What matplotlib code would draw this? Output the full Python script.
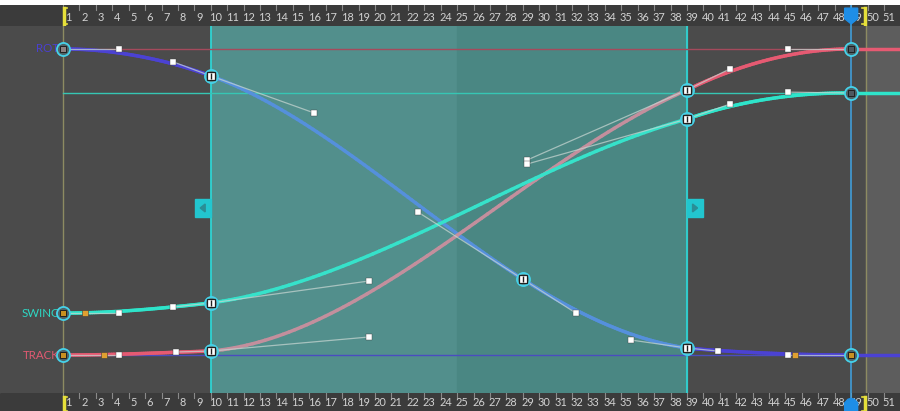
import numpy as np
import matplotlib
matplotlib.use("Agg")
import matplotlib.pyplot as plt
from matplotlib.patches import Rectangle, Polygon
from matplotlib.collections import LineCollection

plt.rcParams['font.family'] = ['Lato', 'DejaVu Sans']

# ---------------- data ----------------
ruler_frames = list(range(1, 52))
sel_start, sel_end, sel_pivot = 10, 39, 25
range_start, range_end = 1, 49.9
current_frame = 49

rot_key_f = [1, 10, 29, 39, 49]
rot_key_v = [1.0, 0.912, 0.248, 0.023, 0.0]
rot_in_f = [None, 7.70, 22.62, 35.59, 45.15]
rot_in_v = [None, 0.958, 0.467, 0.049, 0.0]
rot_out_f = [4.41, 16.29, 32.24, 40.89, None]
rot_out_v = [1.0, 0.791, 0.137, 0.013, None]

track_key_f = [1, 10, 39, 49]
track_key_v = [0.0, 0.013, 0.866, 1.0]
track_in_f = [None, 7.88, 29.26, 45.15]
track_in_v = [None, 0.010, 0.637, 1.0]
track_out_f = [4.41, 19.64, 41.62, None]
track_out_v = [0.0, 0.059, 0.935, None]

swing_key_f = [1, 10, 39, 49]
swing_key_v = [0.137, 0.170, 0.771, 0.856]
swing_in_f = [None, 7.70, 29.26, 45.15]
swing_in_v = [None, 0.157, 0.624, 0.859]
swing_out_f = [4.41, 19.64, 41.62, None]
swing_out_v = [0.137, 0.242, 0.820, None]

# weight markers (orange)
weight_f = [3.50, 2.34, 45.58]
weight_v = [0.0, 0.137, 0.0]

ref_values = {'track_max': 1.0, 'swing_max': 0.856, 'rot_min': 0.0}

# ---------------- layout ----------------
W, H = 900, 411
PXF = 16.42
XMIN = 1 - 63 / PXF
XMAX = 1 + (W - 63) / PXF

fig = plt.figure(figsize=(9, 4.11), dpi=100, facecolor='white')
ax = fig.add_axes([0, 18 / H, 1, 367 / H])
ax_top = fig.add_axes([0, 1 - 26 / H, 1, 21 / H])
ax_bot = fig.add_axes([0, 0, 1, 18 / H])

for a in (ax, ax_top, ax_bot):
    a.set_xlim(XMIN, XMAX)
    a.axis('off')
ax.set_ylim(-0.124, 1.075)
ax_top.set_ylim(0, 1)
ax_bot.set_ylim(0, 1)

# backgrounds
ax.add_patch(Rectangle((XMIN, -1), XMAX - XMIN, 3, color='#4b4b4b', zorder=0))
ax.add_patch(Rectangle((range_end, -1), XMAX - range_end, 3, color='#5d5d5d', zorder=0))
ax.add_patch(Rectangle((sel_start, -1), sel_pivot - sel_start, 3, color='#528f8c', zorder=1))
ax.add_patch(Rectangle((sel_pivot, -1), sel_end - sel_pivot, 3, color='#4a8783', zorder=1))
for a in (ax_top, ax_bot):
    a.add_patch(Rectangle((XMIN, 0), XMAX - XMIN, 1, color='#3b3b3b', zorder=0))

# vertical guides
for f in (range_start, range_end):
    ax.axvline(f, color='#8d8b62', lw=1, zorder=2)
for f in (sel_start, sel_end):
    ax.axvline(f, color='#2fd3d3', lw=1.3, zorder=2)

# reference horizontals
ax.plot([range_start, current_frame], [ref_values['track_max']] * 2, color='#a54a5c', lw=1, zorder=3)
ax.plot([range_start, current_frame], [ref_values['swing_max']] * 2, color='#36c6b4', lw=1, zorder=3)
ax.plot([range_start, current_frame], [ref_values['rot_min']] * 2, color='#4a4cc0', lw=1, zorder=3)


def bez(p0, p1, p2, p3, n=80):
    t = np.linspace(0, 1, n)[:, None]
    return ((1 - t) ** 3) * p0 + 3 * ((1 - t) ** 2) * t * p1 + 3 * (1 - t) * t ** 2 * p2 + t ** 3 * p3


def curve_points(kf, kv, inf, inv, outf, outv):
    pts = []
    for i in range(len(kf) - 1):
        p0 = np.array([kf[i], kv[i]])
        p1 = np.array([outf[i], outv[i]])
        p2 = np.array([inf[i + 1], inv[i + 1]])
        p3 = np.array([kf[i + 1], kv[i + 1]])
        seg = bez(p0, p1, p2, p3)
        pts.append(seg if i == 0 else seg[1:])
    pts = np.vstack(pts)
    pts = np.vstack([pts, [XMAX, kv[-1]]])
    return pts


def draw_curve(pts, col_out, col_in, lw, z):
    segs = np.stack([pts[:-1], pts[1:]], axis=1)
    mids = (pts[:-1, 0] + pts[1:, 0]) / 2
    cols = [col_in if sel_start <= m <= sel_end else col_out for m in mids]
    lc = LineCollection(segs, colors=cols, linewidths=lw, capstyle='round', zorder=z)
    ax.add_collection(lc)


def draw_handles(kf, kv, inf, inv, outf, outv):
    for i in range(len(kf)):
        for hf, hv in ((inf[i], inv[i]), (outf[i], outv[i])):
            if hf is None:
                continue
            ax.plot([kf[i], hf], [kv[i], hv], color='#c4d4d0', lw=0.9, alpha=0.75, zorder=6)
            ax.plot(hf, hv, marker='s', ms=3.8, mfc='white', mec='#404040', mew=0.3, zorder=8)


curves = [
    ('ROT', rot_key_f, rot_key_v, rot_in_f, rot_in_v, rot_out_f, rot_out_v, '#4b42d3', '#5590dc', '#4a40d0'),
    ('TRACK', track_key_f, track_key_v, track_in_f, track_in_v, track_out_f, track_out_v, '#e65a72', '#c38f9d', '#e25a72'),
    ('SWING', swing_key_f, swing_key_v, swing_in_f, swing_in_v, swing_out_f, swing_out_v, '#2ee4ca', '#36e2ca', '#2ed8c4'),
]

for k, (name, kf, kv, inf, inv, outf, outv, co, ci, lc_) in enumerate(curves):
    pts = curve_points(kf, kv, inf, inv, outf, outv)
    draw_curve(pts, co, ci, 2.5, 4 + k * 0.1)
    draw_handles(kf, kv, inf, inv, outf, outv)
    ax.text(kf[0] - 3.5 / PXF, kv[0], name, color=lc_, fontsize=8.3, ha='right', va='center', zorder=5)

ax.plot(weight_f, weight_v, ls='none', marker='s', ms=3.8, mfc='#e0a030', mec='#3a3a3a', mew=0.4, zorder=8)

# current time line
ax.axvline(current_frame, color='#40a4e4', lw=1.1, zorder=7)
ax_top.axvline(current_frame, color='#40a4e4', lw=1.1, zorder=3)
ax_bot.axvline(current_frame, color='#40a4e4', lw=1.1, zorder=3)

# keys
inner_first = {'ROT': '#8c8282', 'TRACK': '#c89020', 'SWING': '#c89020'}
inner_last = {'ROT': '#c89020', 'TRACK': '#4e5860', 'SWING': '#4e5860'}
for name, kf, kv, *_ in curves:
    n = len(kf)
    for i in range(n):
        inside = sel_start <= kf[i] <= sel_end
        face = '#5a9da0' if inside else '#4e6468'
        ax.plot(kf[i], kv[i], marker='o', ms=9.4, mfc=face, mec='#45d2ea', mew=1.3, zorder=9)
        if i == 0 or i == n - 1:
            fc = inner_first[name] if i == 0 else inner_last[name]
            ax.plot(kf[i], kv[i], marker='s', ms=5, mfc=fc, mec='#202020', mew=0.7, zorder=10)
        else:
            ax.plot(kf[i], kv[i], marker='s', ms=5.2, mfc='white', mec='#202020', mew=0.9, zorder=10)
            ax.plot(kf[i], kv[i], marker='|', ms=4, mec='#202020', mew=1.0, zorder=11)

# selection side handles
hw = 16 / PXF
ax.add_patch(Rectangle((sel_start - hw, 0.451), hw, 0.059, color='#22c6cf', zorder=6))
ax.add_patch(Rectangle((sel_end, 0.451), hw, 0.059, color='#22c6cf', zorder=6))
tri_w = 5 / PXF
cy = 0.4805
ax.add_patch(Polygon([[sel_start - hw * 0.35, cy - 0.013], [sel_start - hw * 0.35, cy + 0.013],
                      [sel_start - hw * 0.35 - tri_w, cy]], color='#2a8e96', zorder=7))
ax.add_patch(Polygon([[sel_end + hw * 0.35, cy - 0.013], [sel_end + hw * 0.35, cy + 0.013],
                      [sel_end + hw * 0.35 + tri_w, cy]], color='#2a8e96', zorder=7))

# rulers
for f in ruler_frames:
    ax_top.plot([f, f], [1.0, 0.74], color='#8a8a8a', lw=0.8, zorder=1)
    ax_bot.plot([f, f], [1.0, 0.70], color='#8a8a8a', lw=0.8, zorder=1)
    ax_top.text(f + 0.3, 0.42, str(f), color='#d2d2d2', fontsize=7.9, ha='center', va='center', zorder=2)
    ax_bot.text(f + 0.3, 0.45, str(f), color='#d2d2d2', fontsize=7.9, ha='center', va='center', zorder=2)

# range brackets (yellow)
bw = 3 / PXF
for a, y0, y1 in ((ax_top, 0.08, 0.85), (ax_bot, 0.0, 0.78)):
    a.plot([range_start + 0.05, range_start + 0.05], [y0, y1], color='#e6e03a', lw=2.5, zorder=4)
    a.plot([range_start + 0.05, range_start + 0.05 + bw], [y1, y1], color='#e6e03a', lw=1.2, zorder=4)
    a.plot([range_start + 0.05, range_start + 0.05 + bw], [y0, y0], color='#e6e03a', lw=1.2, zorder=4)
    a.plot([range_end - 0.05, range_end - 0.05], [y0, y1], color='#e6e03a', lw=2.5, zorder=4)
    a.plot([range_end - 0.05 - bw, range_end - 0.05], [y1, y1], color='#e6e03a', lw=1.2, zorder=4)
    a.plot([range_end - 0.05 - bw, range_end - 0.05], [y0, y0], color='#e6e03a', lw=1.2, zorder=4)

# current-time markers
mw = 6.5 / PXF
ax_top.add_patch(Polygon([[current_frame - mw, 0.85], [current_frame + mw, 0.85],
                          [current_frame + mw, 0.35], [current_frame, 0.1],
                          [current_frame - mw, 0.35]], color='#1e8ee6', zorder=5))
ax_bot.add_patch(Polygon([[current_frame - mw, 0.0], [current_frame + mw, 0.0],
                          [current_frame + mw, 0.45], [current_frame + mw * 0.5, 0.65],
                          [current_frame, 0.7], [current_frame - mw * 0.5, 0.65],
                          [current_frame - mw, 0.45]], color='#1e8ee6', zorder=5))

fig.savefig('out.png', dpi=100, facecolor='white')
